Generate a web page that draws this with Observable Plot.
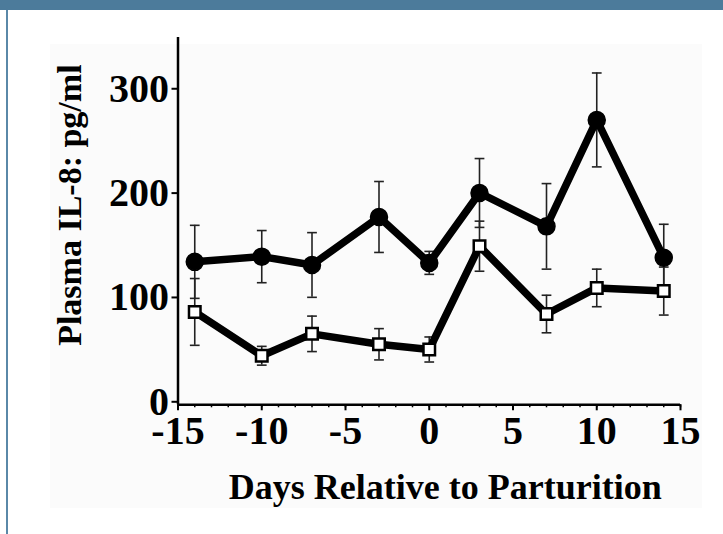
<!DOCTYPE html>
<html>
<head>
<meta charset="utf-8">
<script src="https://cdn.jsdelivr.net/npm/d3@7"></script>
<script src="https://cdn.jsdelivr.net/npm/@observablehq/plot@0.6"></script>
<style>
  html, body { margin: 0; padding: 0; background: #ffffff; }
  body { width: 723px; height: 534px; position: relative; overflow: hidden; }
  #topbar { position: absolute; left: 0; top: 0; width: 723px; height: 10px; background: #4c7b9b; }
  #leftbar { position: absolute; left: 6px; top: 10px; width: 2px; height: 524px; background: #5a88a8; }
  #panel { position: absolute; left: 50px; top: 44px; width: 652px; height: 464px; background: #fbfbfb; }
  #chart { position: absolute; left: 0; top: 0; }
  #chart svg { background: transparent; }
</style>
</head>
<body>
<div id="topbar"></div>
<div id="leftbar"></div>
<div id="panel"></div>
<div id="chart"></div>
<script>
// Data
const days = [-14, -10, -7, -3, 0, 3, 7, 10, 14];
const filledMean = [137, 142, 134, 180, 136, 203, 171, 273, 141];
const filledErr  = [35, 25, 31, 34, 11, 33, 41, 45, 32];
const openMean   = [89, 47, 68, 58, 53, 152, 87, 112, 109];
const openErr    = [32, 9, 17, 15, 12, 24, 18, 18, 23];
const xTicks = [-15, -10, -5, 0, 5, 10, 15];
const xMinorTicks = d3.range(-15, 16, 1);
const yTicks = [0, 100, 200, 300];
const xTitle = "Days Relative to Parturition";
const yTitle = "Plasma IL-8: pg/ml";

const filled = days.map((d, i) => ({day: d, v: filledMean[i], lo: filledMean[i] - filledErr[i], hi: filledMean[i] + filledErr[i], s: "filled"}));
const open = days.map((d, i) => ({day: d, v: openMean[i], lo: openMean[i] - openErr[i], hi: openMean[i] + openErr[i], s: "open"}));
const all = filled.concat(open);

const capSymbol = {
  draw(context, size) {
    const w = Math.sqrt(size) / 2;
    context.moveTo(-w, 0);
    context.lineTo(w, 0);
  }
};

const font = "'Liberation Serif', 'Times New Roman', serif";

const chart = Plot.plot({
  width: 723,
  height: 534,
  marginLeft: 177.5,
  marginRight: 43,
  marginTop: 37,
  marginBottom: 129.7,
  style: {fontFamily: font, fontWeight: "bold", color: "black", background: "transparent"},
  x: {domain: [-15, 15]},
  y: {domain: [0, 352]},
  marks: [
    Plot.axisX({ticks: xMinorTicks, tickSize: 3, tickFormat: () => "", strokeWidth: 1.5, label: null}),
    Plot.axisX({ticks: xTicks, tickSize: 6, tickPadding: 5, fontSize: 40, strokeWidth: 2, label: null, tickFormat: d => d < 0 ? "-" + Math.abs(d) : String(d)}),
    Plot.axisY({ticks: yTicks, tickSize: 6, tickPadding: 3, fontSize: 40, strokeWidth: 2, label: null, dy: -3}),
    Plot.ruleX([-15], {strokeWidth: 2.5}),
    Plot.ruleY([0], {strokeWidth: 2.5}),
    Plot.text([yTitle], {frameAnchor: "left", rotate: -90, dx: -108, dy: -16, fontSize: 34, fontWeight: "bold", fill: "black", textAnchor: "middle", lineAnchor: "middle"}),
    Plot.text([xTitle], {frameAnchor: "bottom", dx: 16, dy: 83, fontSize: 36, fontWeight: "bold", fill: "black", textAnchor: "middle", lineAnchor: "middle"}),
    Plot.ruleX(all, {x: "day", y1: "lo", y2: "hi", stroke: "#222", strokeWidth: 1.6}),
    Plot.dot(all, {x: "day", y: "lo", symbol: capSymbol, r: 5.5, stroke: "#222", strokeWidth: 1.6, fill: "none"}),
    Plot.dot(all, {x: "day", y: "hi", symbol: capSymbol, r: 5.5, stroke: "#222", strokeWidth: 1.6, fill: "none"}),
    Plot.line(filled, {x: "day", y: "v", stroke: "black", strokeWidth: 7.5, strokeLinejoin: "round"}),
    Plot.line(open, {x: "day", y: "v", stroke: "black", strokeWidth: 7.5, strokeLinejoin: "round"}),
    Plot.dot(filled, {x: "day", y: "v", r: 8.5, fill: "black", stroke: "black"}),
    Plot.dot(open, {x: "day", y: "v", symbol: "square", r: 6.5, fill: "white", stroke: "black", strokeWidth: 2.5})
  ]
});
document.getElementById("chart").appendChild(chart);
</script>
</body>
</html>
